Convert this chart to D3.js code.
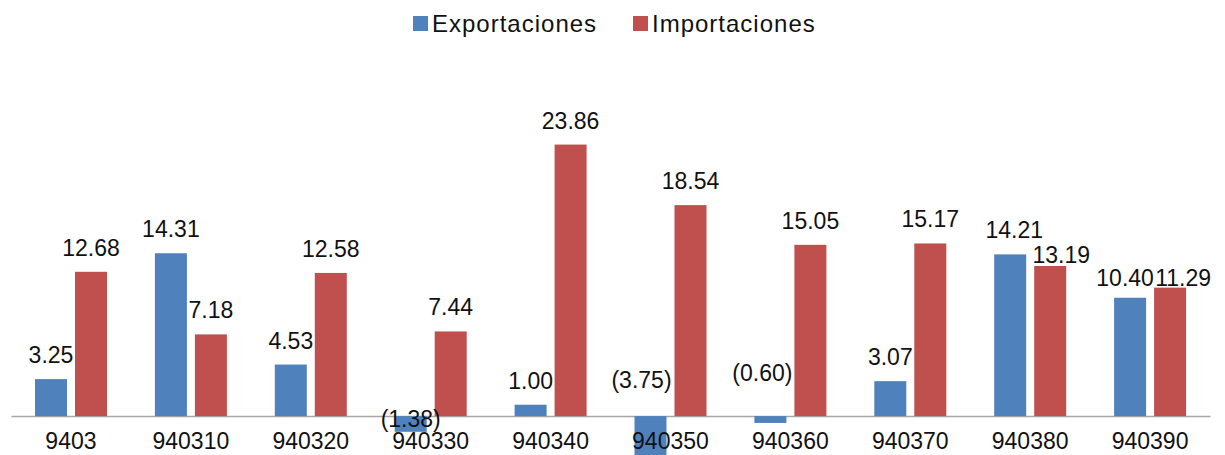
<!DOCTYPE html>
<html>
<head>
<meta charset="utf-8">
<script src="https://cdn.jsdelivr.net/npm/d3@7"></script>
<style>
  body { margin: 0; background: #fff; }
  svg { display: block; font-family: "Liberation Sans", Arial, sans-serif; }
</style>
</head>
<body>
<div class="barchart"></div>
<script>
// data
var categories = ["9403","940310","940320","940330","940340","940350","940360","940370","940380","940390"];
var seriesNames = ["Exportaciones","Importaciones"];
var exportaciones = [3.25, 14.31, 4.53, -1.38, 1.00, -3.75, -0.60, 3.07, 14.21, 10.40];
var importaciones = [12.68, 7.18, 12.58, 7.44, 23.86, 18.54, 15.05, 15.17, 13.19, 11.29];
var seriesColors = ["#4F81BD", "#C0504D"];

// hand-moved data labels in the original (dx, dy)
var exportNudge = [[0,0],[0,0],[0,0],[0,27],[0,0],[-9,-12],[-8,-19],[0,0],[4,0],[-5,4]];
var importNudge = [[0,0],[0,0],[0,0],[0,0],[0,0],[0,0],[0,0],[0,0],[11,13],[13,14]];

var w = 1225, h = 455;

var svg = d3.select(".barchart")
            .append("svg")
            .attr("width", w)
            .attr("height", h);

var xScale = d3.scaleBand()
               .domain(categories)
               .range([11, 1210])
               .paddingInner(0)
               .paddingOuter(0);

var xSub = d3.scaleBand()
             .domain(seriesNames)
             .range([24, 96])
             .paddingInner(0.2)
             .paddingOuter(0);

var yScale = d3.scaleLinear()
               .domain([-5, 25])
               .range([473, 131.6]);

var color = d3.scaleOrdinal().domain(seriesNames).range(seriesColors);

var dataset = categories.map(function(c, i) {
    return {
        cat: c,
        values: [
            {name: seriesNames[0], value: exportaciones[i], nudge: exportNudge[i]},
            {name: seriesNames[1], value: importaciones[i], nudge: importNudge[i]}
        ]
    };
});

// x axis line + category labels
var xAxis = d3.axisBottom(xScale).tickSize(0).tickSizeOuter(0);
var gx = svg.append("g")
    .attr("class", "xAxis")
    .attr("transform", `translate(0,${yScale(0)})`)
    .call(xAxis);
gx.select(".domain").attr("stroke", "#a6a6a6").attr("stroke-width", 1.5);
gx.selectAll("text").remove();

var groups = svg.selectAll(".grp")
    .data(dataset)
    .enter().append("g")
    .attr("class", "grp")
    .attr("transform", d => `translate(${xScale(d.cat)},0)`);

groups.selectAll("rect")
    .data(d => d.values)
    .enter().append("rect")
    .attr("x", d => xSub(d.name))
    .attr("width", xSub.bandwidth())
    .attr("y", d => yScale(Math.max(0, d.value)))
    .attr("height", d => Math.abs(yScale(d.value) - yScale(0)))
    .attr("fill", d => color(d.name));

var fmt = d3.format(".2f");
groups.selectAll(".lbl")
    .data(d => d.values)
    .enter().append("text")
    .attr("class", "lbl")
    .attr("x", d => xSub(d.name) + xSub.bandwidth() / 2 + d.nudge[0])
    .attr("y", d => yScale(Math.max(0, d.value)) - 16 + d.nudge[1])
    .attr("text-anchor", "middle")
    .style("font-size", "23px")
    .attr("fill", "#111")
    .text(d => d.value < 0 ? "(" + fmt(-d.value) + ")" : fmt(d.value));

// category labels on top of bars
svg.append("g")
    .selectAll("text")
    .data(categories)
    .enter().append("text")
    .attr("x", d => xScale(d) + xScale.bandwidth() / 2)
    .attr("y", yScale(0) + 33)
    .attr("text-anchor", "middle")
    .style("font-size", "23px")
    .attr("fill", "#111")
    .text(d => d);

// legend
var legendX = [413, 633];
var legend = svg.selectAll(".legend")
    .data(seriesNames)
    .enter().append("g")
    .attr("class", "legend")
    .attr("transform", (d, i) => `translate(${legendX[i]},16)`);

legend.append("rect")
    .attr("width", 15)
    .attr("height", 15)
    .attr("fill", d => color(d));

legend.append("text")
    .attr("x", 19)
    .attr("y", 16)
    .style("font-size", "24px")
    .style("letter-spacing", "1px")
    .attr("fill", "#111")
    .text(d => d);
</script>
</body>
</html>
